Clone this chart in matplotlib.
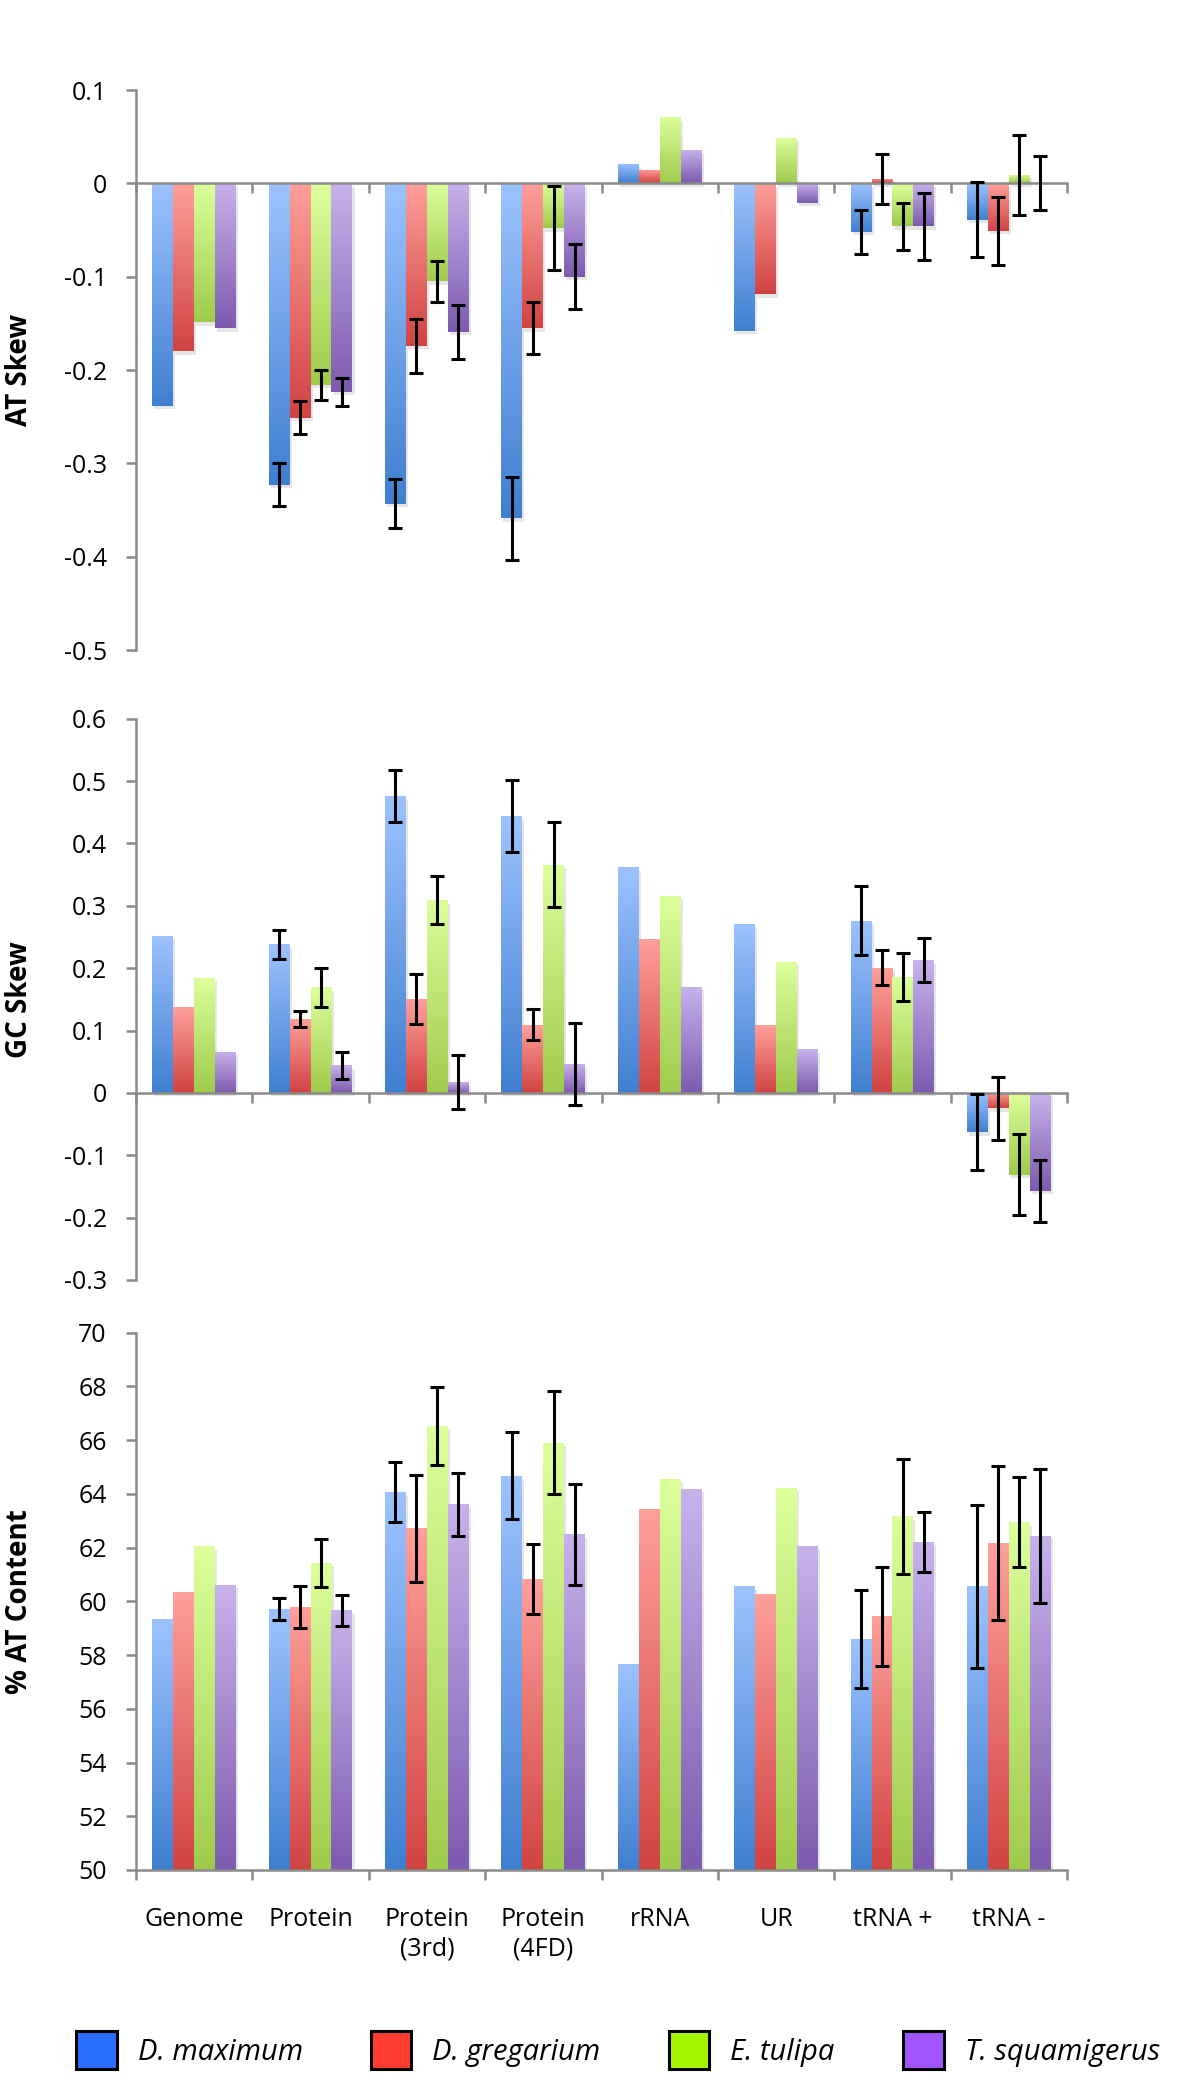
import numpy as np
import matplotlib.pyplot as plt
import matplotlib.patheffects as pe
from matplotlib.colors import LinearSegmentedColormap
from matplotlib.patches import Patch

plt.rcParams['font.family'] = ['Open Sans', 'DejaVu Sans']

categories = ["Genome", "Protein", "Protein\n(3rd)", "Protein\n(4FD)", "rRNA", "UR", "tRNA +", "tRNA -"]
species = ["D. maximum", "D. gregarium", "E. tulipa", "T. squamigerus"]

nan = np.nan

# AT skew, one row per species
at_skew = [
    [-0.238, -0.323, -0.343, -0.359, 0.021, -0.158, -0.052, -0.039],
    [-0.180, -0.251, -0.174, -0.155, 0.014, -0.119, 0.005, -0.051],
    [-0.149, -0.216, -0.105, -0.048, 0.071, 0.049, -0.046, 0.009],
    [-0.155, -0.223, -0.159, -0.100, 0.036, -0.021, -0.046, 0.000],
]
at_skew_err = [
    [nan, 0.023, 0.026, 0.044, nan, nan, 0.024, 0.040],
    [nan, 0.018, 0.029, 0.028, nan, nan, 0.027, 0.036],
    [nan, 0.016, 0.022, 0.045, nan, nan, 0.025, 0.043],
    [nan, 0.015, 0.029, 0.035, nan, nan, 0.036, 0.029],
]

# GC skew
gc_skew = [
    [0.252, 0.238, 0.476, 0.444, 0.362, 0.271, 0.276, -0.063],
    [0.137, 0.119, 0.151, 0.109, 0.247, 0.109, 0.201, -0.025],
    [0.185, 0.169, 0.309, 0.366, 0.316, 0.210, 0.186, -0.131],
    [0.066, 0.044, 0.017, 0.046, 0.170, 0.070, 0.213, -0.157],
]
gc_skew_err = [
    [nan, 0.023, 0.041, 0.058, nan, nan, 0.055, 0.061],
    [nan, 0.013, 0.040, 0.025, nan, nan, 0.028, 0.050],
    [nan, 0.032, 0.038, 0.068, nan, nan, 0.039, 0.065],
    [nan, 0.022, 0.043, 0.066, nan, nan, 0.036, 0.050],
]

# % AT content
at_content = [
    [59.34, 59.72, 64.06, 64.68, 57.65, 60.56, 58.61, 60.56],
    [60.35, 59.78, 62.72, 60.83, 63.44, 60.28, 59.44, 62.17],
    [62.05, 61.43, 66.54, 65.91, 64.57, 64.23, 63.17, 62.94],
    [60.62, 59.66, 63.61, 62.49, 64.18, 62.06, 62.22, 62.44],
]
at_content_err = [
    [nan, 0.41, 1.12, 1.62, nan, nan, 1.82, 3.04],
    [nan, 0.78, 2.00, 1.30, nan, nan, 1.85, 2.85],
    [nan, 0.90, 1.45, 1.91, nan, nan, 2.14, 1.67],
    [nan, 0.57, 1.17, 1.87, nan, nan, 1.12, 2.49],
]

# gradient (top, bottom) colours and legend swatch colours
grad_colors = [("#9dc3ff", "#3f7fd0"), ("#ffa09b", "#d04343"),
               ("#dcff9c", "#9fcb4c"), ("#c8b2ec", "#7d5aae")]
swatch_colors = ["#2a6eff", "#ff3c2e", "#a6f500", "#a055ff"]
axis_gray = "#8a8a8a"

fig = plt.figure(figsize=(12, 20.99), dpi=100)

panels = [
    (at_skew, at_skew_err, "AT Skew", (-0.5, 0.1), 0.1, "{:.1f}", [0.1133, 0.6903, 0.7759, 0.2668], 0),
    (gc_skew, gc_skew_err, "GC Skew", (-0.3, 0.6), 0.1, "{:.1f}", [0.1133, 0.3902, 0.7759, 0.2674], 0),
    (at_content, at_content_err, "% AT Content", (50, 70), 2, "{:.0f}", [0.1133, 0.1091, 0.7759, 0.2560], 50),
]

n_cat = len(categories)
w = 0.18
x_cent = np.arange(n_cat) + 0.5
shadow = [pe.SimplePatchShadow(offset=(1.5, -2.5), shadow_rgbFace="#777777", alpha=0.18)]

for pi, (vals, errs, ylabel, ylim, step, fmt, rect, base) in enumerate(panels):
    ax = fig.add_axes(rect)
    for j in range(len(species)):
        v = np.array(vals[j])
        e = np.array(errs[j])
        xs = x_cent + (j - 1.5) * w
        cmap = LinearSegmentedColormap.from_list("g%d" % j, [grad_colors[j][1], grad_colors[j][0]])
        bars = ax.bar(xs, v - base, bottom=base, width=w, color="none", linewidth=0, zorder=2)
        grad = np.linspace(0, 1, 256).reshape(-1, 1)
        for b in bars:
            b.set_path_effects(shadow)
            x0, y0 = b.get_x(), b.get_y()
            y1 = y0 + b.get_height()
            lo, hi = min(y0, y1), max(y0, y1)
            im = ax.imshow(grad, extent=(x0, x0 + w, lo, hi), origin="lower", cmap=cmap,
                           aspect="auto", zorder=2, interpolation="bilinear")
            im.set_clip_path(b)
        ok = np.isfinite(e)
        ax.errorbar(xs[ok], v[ok], yerr=e[ok], fmt="none", ecolor="black",
                    elinewidth=2.2, capsize=4.7, capthick=2.2, zorder=4)

    ax.set_xlim(0, n_cat)
    ax.set_ylim(*ylim)
    ticks = np.arange(ylim[0], ylim[1] + step / 2, step)
    ax.set_yticks(ticks)
    ax.set_yticklabels([fmt.format(t) if abs(t) > 1e-9 else "0" for t in ticks])
    for s in ["top", "right"]:
        ax.spines[s].set_visible(False)
    ax.spines["left"].set_color(axis_gray)
    ax.spines["left"].set_linewidth(1.8)
    ax.spines["bottom"].set_color(axis_gray)
    ax.spines["bottom"].set_linewidth(1.8)
    ax.spines["bottom"].set_position(("data", base))
    ax.spines["bottom"].set_zorder(3)
    ax.set_xticks(np.arange(n_cat + 1))
    ax.set_xticklabels([])
    ax.tick_params(axis="both", which="major", color=axis_gray, width=1.8, length=7,
                   direction="out", labelsize=18, pad=14)
    if pi == 2:
        ax.set_xticks(x_cent, minor=True)
        ax.set_xticklabels(categories, minor=True, fontsize=18)
        ax.tick_params(axis="x", which="minor", length=0, pad=27)
    fig.text(20 / 1200, rect[1] + rect[3] / 2, ylabel, rotation=90, ha="center", va="center",
             fontsize=20, fontweight="bold")

handles = [Patch(facecolor=c, edgecolor="black", linewidth=2.2) for c in swatch_colors]
fig.legend(handles, species, loc="center", bbox_to_anchor=(0.515, 0.0233), ncol=4,
           frameon=False, prop={"style": "italic", "size": 21}, handlelength=1.38,
           handleheight=1.6, handletextpad=0.72, columnspacing=2.35)

fig.savefig("out.png", dpi=100, facecolor="white")
